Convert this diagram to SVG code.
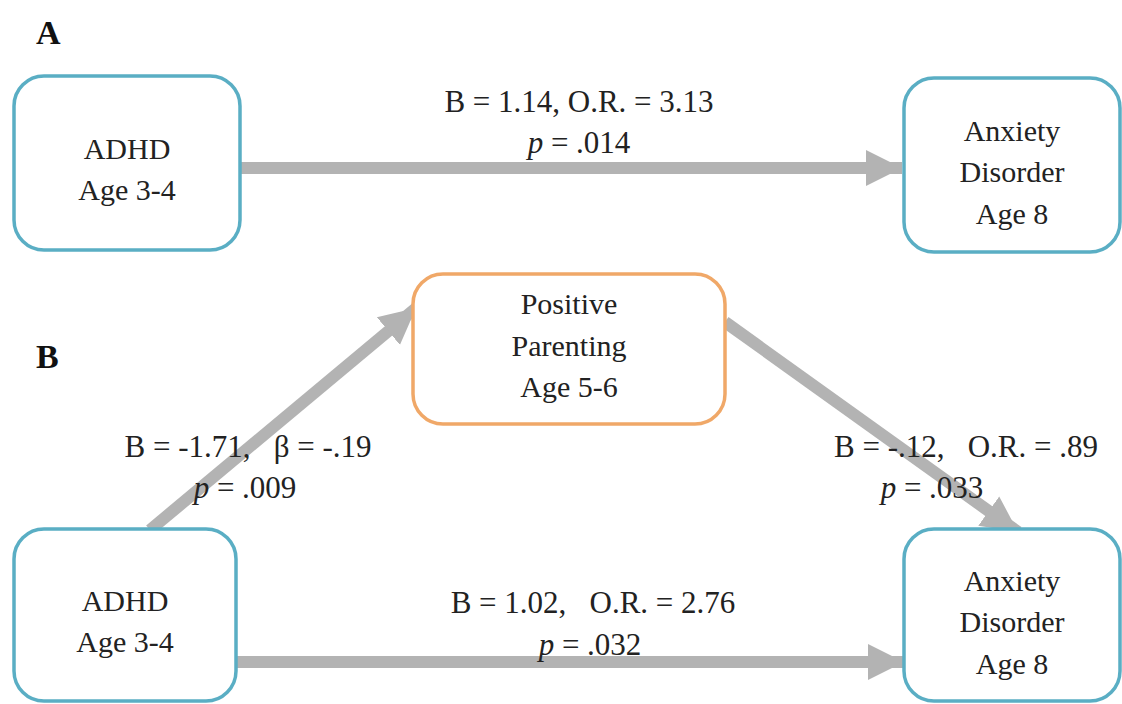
<svg xmlns="http://www.w3.org/2000/svg" width="1122" height="704" viewBox="0 0 1122 704">
<style>
.blue{fill:#fff;stroke:#5aaec4;stroke-width:3.5}
.orange{fill:#fff;stroke:#f0a868;stroke-width:3.5}
.t{font-family:"Liberation Serif",serif;font-size:30px;fill:#222;text-anchor:middle}
.lab{font-family:"Liberation Serif",serif;font-size:31px;fill:#222;text-anchor:middle}
.hd{font-family:"Liberation Serif",serif;font-size:34px;font-weight:bold;fill:#111}
.c{stroke:#b3b3b3;stroke-width:12;fill:none}
</style>
<defs>
<marker id="ah" markerUnits="userSpaceOnUse" markerWidth="38" markerHeight="38" refX="36" refY="19" orient="auto">
<path d="M0,1 L36,19 L0,37 Z" fill="#b3b3b3"/>
</marker>
</defs>
<rect width="1122" height="704" fill="#fff"/>
<text class="hd" x="36" y="44">A</text>
<text class="hd" x="36" y="368">B</text>
<g id="connectors">
<line class="c" x1="240" y1="168" x2="902" y2="168" marker-end="url(#ah)"/>
<line class="c" x1="150" y1="530" x2="416" y2="308" marker-end="url(#ah)"/>
<line class="c" x1="725" y1="322" x2="1018" y2="532" marker-end="url(#ah)"/>
<line class="c" x1="236" y1="662" x2="904" y2="662" marker-end="url(#ah)"/>
</g>
<g id="labels">
<text class="lab" x="579" y="112">B = 1.14, O.R. = 3.13</text>
<text class="lab" x="579" y="153"><tspan font-style="italic">p</tspan> = .014</text>
<text class="lab" x="248" y="457" xml:space="preserve">B = -1.71,   β = -.19</text>
<text class="lab" x="245" y="498"><tspan font-style="italic">p</tspan> = .009</text>
<text class="lab" x="966" y="457" xml:space="preserve">B = -.12,   O.R. = .89</text>
<text class="lab" x="932" y="498"><tspan font-style="italic">p</tspan> = .033</text>
<text class="lab" x="593" y="613" xml:space="preserve">B = 1.02,   O.R. = 2.76</text>
<text class="lab" x="590" y="655"><tspan font-style="italic">p</tspan> = .032</text>
</g>
<g id="a-adhd">
<rect class="blue" x="14" y="76" width="226" height="174" rx="30"/>
<text class="t" x="127" y="159">ADHD</text>
<text class="t" x="127" y="200">Age 3-4</text>
</g>
<g id="a-anxiety">
<rect class="blue" x="904" y="78" width="216" height="174" rx="30"/>
<text class="t" x="1012" y="141">Anxiety</text>
<text class="t" x="1012" y="182">Disorder</text>
<text class="t" x="1012" y="224">Age 8</text>
</g>
<g id="b-parenting">
<rect class="orange" x="413" y="274" width="312" height="150" rx="30"/>
<text class="t" x="569" y="314">Positive</text>
<text class="t" x="569" y="356">Parenting</text>
<text class="t" x="569" y="397">Age 5-6</text>
</g>
<g id="b-adhd">
<rect class="blue" x="14" y="529" width="222" height="172" rx="30"/>
<text class="t" x="125" y="611">ADHD</text>
<text class="t" x="125" y="652">Age 3-4</text>
</g>
<g id="b-anxiety">
<rect class="blue" x="904" y="529" width="216" height="172" rx="30"/>
<text class="t" x="1012" y="591">Anxiety</text>
<text class="t" x="1012" y="632">Disorder</text>
<text class="t" x="1012" y="674">Age 8</text>
</g>
</svg>
